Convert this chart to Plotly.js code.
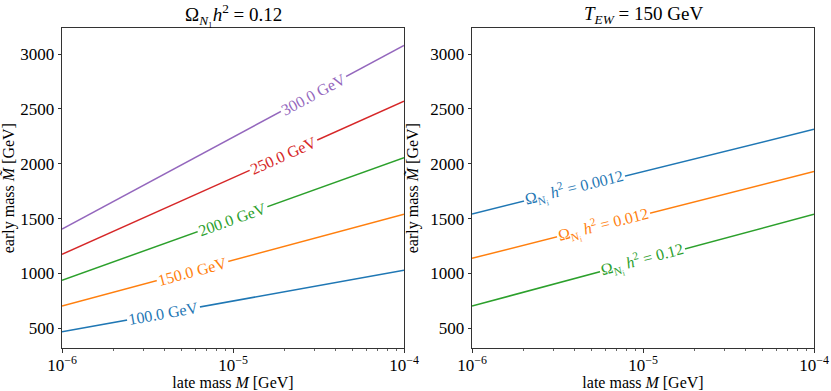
<!DOCTYPE html>
<html>
<head>
<meta charset="utf-8">
<script src="https://cdn.plot.ly/plotly-3.0.1.min.js"></script>
<style>
  html, body { margin: 0; padding: 0; background: #fff; }
  #grafico { width: 831px; height: 391px; }
</style>
</head>
<body>
<div id="grafico"></div>
<script>
// late mass M [GeV] (log axis), ends of each contour
const lateMass = [1e-6, 1e-4];

// left panel: contours of T_EW at Omega h^2 = 0.12
const tewLevels = ["100.0 GeV", "150.0 GeV", "200.0 GeV", "250.0 GeV", "300.0 GeV"];
const tewEarly = [
    [469, 1029],
    [703, 1539],
    [938, 2055],
    [1175, 2569],
    [1405, 3079]
];
const tewLabelX = [3.9e-6, 5.8e-6, 9.9e-6, 1.97e-5, 2.95e-5];

// right panel: contours of Omega h^2 at T_EW = 150 GeV
const omegaLevels = ["0.0012", "0.012", "0.12"];
const omegaEarly = [
    [1542, 2314],
    [1138, 1929],
    [703, 1539]
];
const omegaLabelX = [4.0e-6, 5.9e-6, 9.9e-6];

const colors = ["#1f77b4", "#ff7f0e", "#2ca02c", "#d62728", "#9467bd"];
const yRange = [318, 3237];

const FONT = "Liberation Serif, DejaVu Serif, serif";
const dom1 = [62 / 831, 404 / 831];
const dom2 = [472 / 831, 814 / 831];
const ydom = [1 - 348.3 / 391, 1 - 28 / 391];

// pixel scale, used to tilt the inline labels along the lines
const pxPerDecade = (dom1[1] - dom1[0]) * 831 / 2;
const pxPerUnit = (ydom[1] - ydom[0]) * 391 / (yRange[1] - yRange[0]);

function yAt(pair, x) {
    const f = (Math.log10(x) + 6) / 2;
    return pair[0] + f * (pair[1] - pair[0]);
}
function angleOf(pair) {
    const slope = (pair[1] - pair[0]) / 2;
    return -Math.atan(slope * pxPerUnit / pxPerDecade) * 180 / Math.PI;
}

let traces = [];
let annotations = [];

tewEarly.forEach((pair, i) => {
    traces.push({
        x: lateMass, y: pair, xaxis: "x", yaxis: "y",
        mode: "lines", line: { color: colors[i], width: 1.5 },
        showlegend: false, hoverinfo: "skip"
    });
    annotations.push({
        x: Math.log10(tewLabelX[i]), y: yAt(pair, tewLabelX[i]),
        xref: "x", yref: "y", text: tewLevels[i], showarrow: false,
        xanchor: "center", yanchor: "middle",
        textangle: angleOf(pair), bgcolor: "#ffffff", borderpad: 1,
        font: { family: FONT, size: 16, color: colors[i] }
    });
});

omegaEarly.forEach((pair, i) => {
    traces.push({
        x: lateMass, y: pair, xaxis: "x2", yaxis: "y2",
        mode: "lines", line: { color: colors[i], width: 1.5 },
        showlegend: false, hoverinfo: "skip"
    });
    annotations.push({
        x: Math.log10(omegaLabelX[i]), y: yAt(pair, omegaLabelX[i]),
        xref: "x2", yref: "y2",
        text: "Ω<sub>N<sub>i</sub></sub> <i>h</i><sup>2</sup> = " + omegaLevels[i],
        showarrow: false, xanchor: "center", yanchor: "middle",
        textangle: angleOf(pair), bgcolor: "#ffffff", borderpad: 1,
        font: { family: FONT, size: 16, color: colors[i] }
    });
});

// panel titles
annotations.push({
    xref: "paper", yref: "paper", x: (dom1[0] + dom1[1]) / 2, y: 1 - 15 / 391,
    xanchor: "center", yanchor: "middle",
    text: "Ω<sub><i>N</i>₁</sub><i>h</i><sup>2</sup> = 0.12", showarrow: false,
    font: { family: FONT, size: 19, color: "#000" }
});
annotations.push({
    xref: "paper", yref: "paper", x: (dom2[0] + dom2[1]) / 2, y: 1 - 15 / 391,
    xanchor: "center", yanchor: "middle",
    text: "<i>T</i><sub><i>EW</i></sub> = 150 GeV", showarrow: false,
    font: { family: FONT, size: 19, color: "#000" }
});

const minorVals = [];
[1e-6, 1e-5].forEach(d => { for (let k = 2; k <= 9; k++) minorVals.push(k * d); });

function xAxis(dom, anchor) {
    return {
        domain: dom, anchor: anchor, type: "log",
        range: [-6, -4],
        tickmode: "array", tickvals: [1e-6, 1e-5, 1e-4],
        ticktext: ["10<sup>−6</sup>", "10<sup>−5</sup>", "10<sup>−4</sup>"],
        ticks: "outside", ticklen: 3.5, tickwidth: 0.8, tickcolor: "#000",
        ticklabelstandoff: -2,
        minor: { tickmode: "array", tickvals: minorVals, ticks: "outside", ticklen: 2, tickwidth: 0.6, tickcolor: "#000" },
        showline: true, linecolor: "#000", linewidth: 0.8, mirror: true,
        showgrid: false, zeroline: false,
        tickfont: { family: FONT, size: 17, color: "#000" },
        title: { text: "late mass <i>M</i> [GeV]", font: { family: FONT, size: 16, color: "#000" }, standoff: 4 }
    };
}
function yAxis(dom, anchor) {
    return {
        domain: ydom, anchor: anchor, range: yRange,
        tickmode: "array", tickvals: [500, 1000, 1500, 2000, 2500, 3000],
        ticks: "outside", ticklen: 3.5, tickwidth: 0.8, tickcolor: "#000",
        showline: true, linecolor: "#000", linewidth: 0.8, mirror: true,
        showgrid: false, zeroline: false,
        tickfont: { family: FONT, size: 17, color: "#000" },
        title: { text: "early mass <i>M̃</i> [GeV]", font: { family: FONT, size: 16, color: "#000" }, standoff: 7 }
    };
}

const layout = {
    width: 831, height: 391,
    margin: { l: 0, r: 0, t: 0, b: 0 },
    paper_bgcolor: "#fff", plot_bgcolor: "#fff",
    xaxis: xAxis(dom1, "y"),
    yaxis: yAxis(ydom, "x"),
    xaxis2: xAxis(dom2, "y2"),
    yaxis2: yAxis(ydom, "x2"),
    annotations: annotations
};

Plotly.newPlot("grafico", traces, layout, { displayModeBar: false, staticPlot: true });
</script>
</body>
</html>
